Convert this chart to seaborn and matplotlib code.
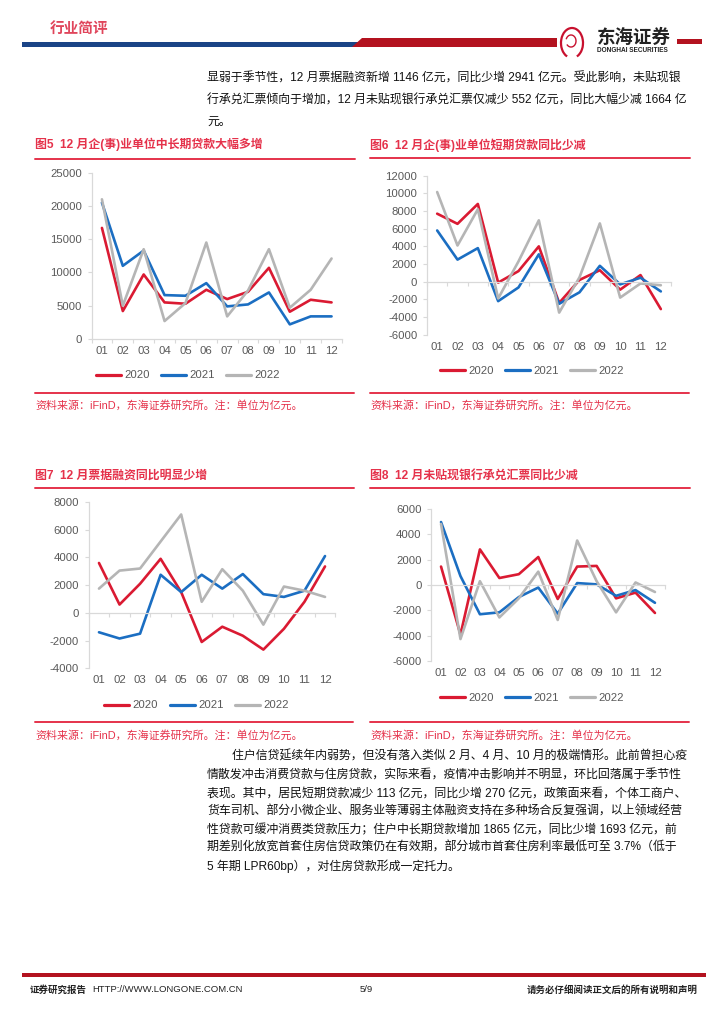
import numpy as np
import pandas as pd
import matplotlib
matplotlib.use("Agg")
import matplotlib.pyplot as plt
import seaborn as sns
from matplotlib.lines import Line2D
from matplotlib.patches import Polygon, Rectangle, Arc

# ---------------- data ----------------
months = ["01", "02", "03", "04", "05", "06", "07", "08", "09", "10", "11", "12"]
years = ["2020", "2021", "2022"]

# Fig5: 企(事)业单位中长期贷款
mlt_2020 = [16700, 4200, 9700, 5500, 5300, 7400, 6000, 7100, 10700, 4100, 5900, 5500]
mlt_2021 = [20500, 11000, 13300, 6600, 6500, 8400, 4900, 5200, 7000, 2200, 3400, 3400]
mlt_2022 = [21000, 5000, 13500, 2700, 5400, 14500, 3400, 7300, 13500, 4700, 7400, 12100]
# Fig6: 企(事)业单位短期贷款
st_2020 = [7700, 6550, 8800, -100, 1200, 4000, -2400, 200, 1300, -900, 750, -3100]
st_2021 = [5800, 2500, 3800, -2200, -650, 3100, -2500, -1200, 1800, -300, 450, -1100]
st_2022 = [10150, 4100, 8200, -1900, 2300, 6950, -3500, 500, 6600, -1800, -200, -400]
# Fig7: 票据融资
bill_2020 = [3600, 600, 2100, 3900, 1500, -2100, -1000, -1650, -2650, -1150, 800, 3350]
bill_2021 = [-1400, -1850, -1500, 2750, 1500, 2750, 1750, 2800, 1350, 1150, 1600, 4100]
bill_2022 = [1750, 3050, 3200, 5150, 7100, 800, 3150, 1600, -850, 1900, 1600, 1150]
# Fig8: 未贴现银行承兑汇票
acc_2020 = [1450, -3900, 2800, 550, 850, 2200, -1100, 1450, 1500, -1050, -600, -2200]
acc_2021 = [4950, 700, -2300, -2150, -950, -200, -2250, 150, 50, -850, -400, -1400]
acc_2022 = [4800, -4250, 300, -2550, -1050, 1050, -2750, 3500, 300, -2150, 200, -550]

titles = ["图5  12 月企(事)业单位中长期贷款大幅多增",
          "图6  12 月企(事)业单位短期贷款同比少减",
          "图7  12 月票据融资同比明显少增",
          "图8  12 月未贴现银行承兑汇票同比少减"]
source_text = "资料来源：iFinD，东海证券研究所。注：单位为亿元。"

top_lines = ["显弱于季节性，12 月票据融资新增 1146 亿元，同比少增 2941 亿元。受此影响，未贴现银",
             "行承兑汇票倾向于增加，12 月未贴现银行承兑汇票仅减少 552 亿元，同比大幅少减 1664 亿",
             "元。"]
bottom_lines = ["住户信贷延续年内弱势，但没有落入类似 2 月、4 月、10 月的极端情形。此前曾担心疫",
                "情散发冲击消费贷款与住房贷款，实际来看，疫情冲击影响并不明显，环比回落属于季节性",
                "表现。其中，居民短期贷款减少 113 亿元，同比少增 270 亿元，政策面来看，个体工商户、",
                "货车司机、部分小微企业、服务业等薄弱主体融资支持在多种场合反复强调，以上领域经营",
                "性贷款可缓冲消费类贷款压力；住户中长期贷款增加 1865 亿元，同比少增 1693 亿元，前",
                "期差别化放宽首套住房信贷政策仍在有效期，部分城市首套住房利率最低可至 3.7%（低于",
                "5 年期 LPR60bp），对住房贷款形成一定托力。"]

# ---------------- style ----------------
sns.set_theme(style="white")
plt.rcParams["font.family"] = ["Liberation Sans", "Noto Sans CJK SC", "DejaVu Sans"]
plt.rcParams["axes.unicode_minus"] = False

W, H = 724, 1024
fig = plt.figure(figsize=(W / 100, H / 100), dpi=100)

RED_T = "#E5324B"
C2020 = "#DA1A32"
C2021 = "#1B6EC2"
C2022 = "#B5B5B5"
palette = {"2020": C2020, "2021": C2021, "2022": C2022}
GRID = "#D9D9D9"
TXT = "#595959"
FS_TICK = 8.2

# overlay for page decoration / text
bg = fig.add_axes([0, 0, 1, 1])
bg.set_xlim(0, W)
bg.set_ylim(H, 0)
bg.axis("off")
bg.patch.set_alpha(0)

# header
bg.text(50, 29, "行业简评", fontsize=10.5, fontweight="bold", color="#E0455B", va="center", ha="left")
bg.add_patch(Rectangle((22, 42), 338, 5, color="#1A4486", lw=0))
bg.add_patch(Polygon([(352, 47), (362, 38), (557, 38), (557, 47)], closed=True, color="#B3121F", lw=0))
bg.add_patch(Rectangle((677, 39), 25, 5, color="#B3121F", lw=0))
bg.add_patch(Arc((572, 43), 22, 30, theta1=110, theta2=430, color="#C8102E", lw=1.6))
bg.add_patch(Arc((571, 41), 10, 12, theta1=200, theta2=500, color="#C8102E", lw=1.0))
bg.text(597, 38, "东海证券", fontsize=13.3, fontweight="bold", color="#222222", va="center", ha="left")
bg.text(597, 51, "DONGHAI SECURITIES", fontsize=4.7, fontweight="bold", color="#222222", va="center", ha="left")

# top paragraph
for i, ln in enumerate(top_lines):
    bg.text(207, 79 + i * 21.5, ln, fontsize=8.6, color="#111111", va="center", ha="left")

# bottom paragraph
for i, ln in enumerate(bottom_lines):
    x0 = 232 if i == 0 else 207
    bg.text(x0, 757 + i * 18.2, ln, fontsize=8.6, color="#111111", va="center", ha="left")

# footer
bg.add_patch(Rectangle((22, 973), 684, 4, color="#B3121F", lw=0))
bg.text(30, 990, "证券研究报告", fontsize=6.8, fontweight="bold", color="#222222", va="center", ha="left")
bg.text(92, 990, "HTTP://WWW.LONGONE.COM.CN", fontsize=6.8, color="#222222", va="center", ha="left")
bg.text(366, 990, "5/9", fontsize=6.8, color="#222222", va="center", ha="center")
bg.text(698, 990, "请务必仔细阅读正文后的所有说明和声明", fontsize=6.8, fontweight="bold", color="#222222", va="center", ha="right")

# ---------------- charts ----------------
charts = [
    dict(series=[mlt_2020, mlt_2021, mlt_2022], box=(91.5, 172.7, 342, 339.0), ylim=(0, 25000), step=5000,
         tx=35, ty=144, line=(35, 355, 158.5), src=(392.5, 405.5), leg=(188, 375.5)),
    dict(series=[st_2020, st_2021, st_2022], box=(427, 175.7, 671, 334.7), ylim=(-6000, 12000), step=2000,
         tx=370, ty=145, line=(370, 690, 158), src=(392.5, 405.5), leg=(532, 370.7)),
    dict(series=[bill_2020, bill_2021, bill_2022], box=(88.7, 502.0, 335.3, 668.3), ylim=(-4000, 8000), step=2000,
         tx=35, ty=475.5, line=(35, 354, 488), src=(722, 735), leg=(196.7, 705.5)),
    dict(series=[acc_2020, acc_2021, acc_2022], box=(431.3, 508.7, 664.7, 661.3), ylim=(-6000, 6000), step=2000,
         tx=370, ty=475.5, line=(370, 690, 488), src=(722, 735), leg=(532, 697.7)),
]

for ci, c in enumerate(charts):
    x0, y0, x1, y1 = c["box"]
    ax = fig.add_axes([x0 / W, 1 - y1 / H, (x1 - x0) / W, (y1 - y0) / H])
    frames = []
    for yr, vals in zip(years, c["series"]):
        frames.append(pd.DataFrame({"month": months, "value": vals, "year": yr}))
    df = pd.concat(frames, ignore_index=True)
    sns.lineplot(data=df, x="month", y="value", hue="year", palette=palette, ax=ax,
                 linewidth=1.9, legend=False, sort=False)
    ymin, ymax = c["ylim"]
    ax.set_ylim(ymin, ymax)
    ax.set_xlim(-0.5, len(months) - 0.5)
    ax.set_yticks(np.arange(ymin, ymax + 1, c["step"]))
    ax.set_xlabel("")
    ax.set_ylabel("")
    ax.patch.set_alpha(0)
    for s in ["top", "right"]:
        ax.spines[s].set_visible(False)
    ax.spines["left"].set_color(GRID)
    ax.spines["left"].set_linewidth(0.9)
    ax.spines["bottom"].set_color(GRID)
    ax.spines["bottom"].set_linewidth(0.9)
    ax.spines["bottom"].set_position(("data", 0))
    ax.tick_params(axis="y", length=3, width=0.8, color=GRID, labelsize=FS_TICK, labelcolor=TXT, pad=4, left=True)
    ax.set_xticks(range(len(months)))
    ax.set_xticklabels(months)
    ax.set_xticks(np.arange(-0.5, len(months), 1.0), minor=True)
    zero_px = (0 - ymin) / (ymax - ymin) * (y1 - y0)
    ax.tick_params(axis="x", which="major", length=0, labelsize=FS_TICK, labelcolor=TXT,
                   pad=(zero_px + 7.0) * 0.72)
    ax.tick_params(axis="x", which="minor", length=3, width=0.8, color=GRID, bottom=True)
    for lab in ax.get_xticklabels():
        lab.set_verticalalignment("top")

    # title + rules + source
    bg.text(c["tx"], c["ty"], titles[ci], fontsize=8.6, fontweight="bold", color=RED_T, va="center", ha="left")
    lx0, lx1, ly = c["line"]
    bg.plot([lx0, lx1], [ly, ly], color=RED_T, lw=1.4)
    bg.plot([lx0, lx1 - 1], [c["src"][0], c["src"][0]], color=RED_T, lw=1.4)
    bg.text(c["tx"], c["src"][1], source_text, fontsize=7.9, color=RED_T, va="center", ha="left")

    handles = [Line2D([0], [0], color=palette[y], lw=2.3) for y in years]
    fig.legend(handles, years, loc="center", bbox_to_anchor=(c["leg"][0] / W, 1 - c["leg"][1] / H),
               ncol=3, frameon=False, fontsize=FS_TICK, labelcolor=TXT, handlelength=2.2,
               handletextpad=0.3, columnspacing=1.0, borderpad=0, borderaxespad=0)

fig.savefig("out.png", dpi=100)
